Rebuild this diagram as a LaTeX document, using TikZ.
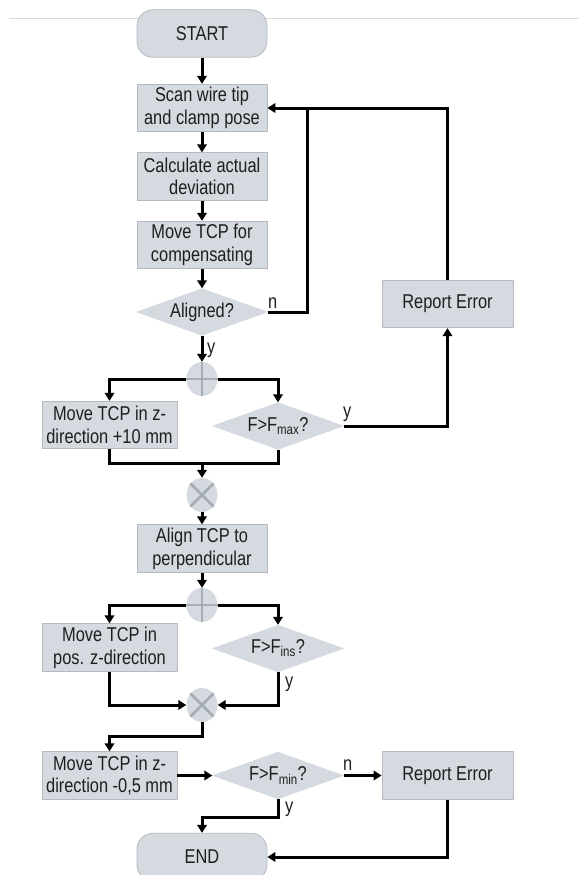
\documentclass[tikz,border=0pt]{standalone}
\usepackage{fontspec}
\setmainfont{Liberation Sans}[FakeStretch=0.82]
\usetikzlibrary{arrows.meta,shapes.geometric}

\definecolor{boxfill}{HTML}{D5DAE0}
\definecolor{boxline}{HTML}{B4BAC0}
\definecolor{crossline}{HTML}{A5ACB4}
\definecolor{txt}{HTML}{1E1E1E}
\definecolor{rule}{HTML}{DADADA}

\tikzset{
  base/.style={fill=boxfill, text=txt, inner sep=0pt, align=center,
    font=\fontsize{20}{22.7}\selectfont},
  stepbox/.style={base, draw=boxline, line width=0.8pt, rectangle,
    minimum width=130pt, minimum height=47.5pt},
  widebox/.style={stepbox, minimum width=135pt},
  terminal/.style={base, draw=boxline, line width=0.8pt, rectangle,
    rounded corners=16pt, minimum width=130pt, minimum height=47.5pt},
  decision/.style={base, diamond, aspect=2.8, draw=boxfill,
    minimum width=131pt, minimum height=47pt},
  junction/.style={fill=boxfill, ellipse, inner sep=0pt,
    minimum width=31pt, minimum height=34pt},
  mark lines/.style={draw=crossline, line width=2.6pt},
  flow/.style={draw=black, line width=3pt,
    -{Triangle[width=9.5pt,length=8pt]}},
  plainline/.style={draw=black, line width=3pt},
  lbl/.style={text=txt, inner sep=0pt, font=\fontsize{20}{22.7}\selectfont},
}

\begin{document}
\begin{tikzpicture}[x=1pt, y=-1pt]
  \path[use as bounding box] (0,0) rectangle (579,875);
  \clip (0,0) rectangle (579,875);

  % thin rule across the top
  \draw[rule, line width=0.8pt] (9,18) -- (579,18);

  % main column
  \node[terminal] (start) at (202,33.5) {START};
  \node[stepbox] (scan) at (202,108) {Scan wire tip\\and clamp pose};
  \node[stepbox] (calc) at (202,176.5) {Calculate actual\\deviation};
  \node[stepbox] (comp) at (202,245) {Move TCP for\\compensating};
  \node[decision] (aligned) at (202,312) {Aligned?};
  \node[stepbox, minimum width=131pt] (err1) at (447.5,304) {Report Error};

  \node[junction] (plus1) at (202,379) {};
  \node[widebox] (box10) at (109.5,425) {Move TCP in z-\\direction +10 mm};
  \node[decision] (fmax) at (278,426) {F>F\textsubscript{max}?};
  \node[junction] (merge1) at (202,495) {};

  \node[stepbox] (align) at (202,548.5) {Align TCP to\\perpendicular};

  \node[junction] (plus2) at (202,605) {};
  \node[widebox] (boxpos) at (109.5,647.5) {Move TCP in\\pos. z-direction};
  \node[decision] (fins) at (278,648.5) {F>F\textsubscript{ins}?};
  \node[junction] (merge2) at (202,705) {};

  \node[widebox] (box05) at (109.5,775.5) {Move TCP in z-\\direction -0,5 mm};
  \node[decision] (fmin) at (278,775.5) {F>F\textsubscript{min}?};
  \node[stepbox, minimum width=131pt] (err2) at (447.5,775.5) {Report Error};

  \node[terminal] (end) at (202,857) {END};

  % plus / cross marks inside the junctions
  \path[mark lines] (plus1.north) -- (plus1.south) (plus1.west) -- (plus1.east);
  \path[mark lines] (plus2.north) -- (plus2.south) (plus2.west) -- (plus2.east);
  \path[mark lines] (merge1.45) -- (merge1.225) (merge1.135) -- (merge1.315);
  \path[mark lines] (merge2.45) -- (merge2.225) (merge2.135) -- (merge2.315);

  % helper points for the routed lines
  \coordinate (loop) at (307,108);
  \coordinate (m1) at (202,463);
  \coordinate (m2) at (202,736);
  \coordinate (m3) at (202,817);

  % connectors
  \path[flow] (start) -- (scan);
  \path[flow] (scan) -- (calc);
  \path[flow] (calc) -- (comp);
  \path[flow] (comp) -- (aligned);
  \path[plainline] (aligned.east) -| (loop);
  \path[flow] (err1.north) |- (scan.east);
  \path[flow] (aligned.south) -- (plus1.north);

  \path[flow] (plus1.west) -| (box10.north);
  \path[flow] (plus1.east) -| (fmax.north);
  \path[flow] (fmax.east) -| (err1.south);
  \path[plainline] (box10.south) |- (m1) -| (fmax.south);
  \path[flow] (m1) -- (merge1.north);
  \path[flow] (merge1.south) -- (align.north);

  \path[flow] (align.south) -- (plus2.north);
  \path[flow] (plus2.west) -| (boxpos.north);
  \path[flow] (plus2.east) -| (fins.north);
  \path[flow] (boxpos.south) |- (merge2.west);
  \path[flow] (fins.south) |- (merge2.east);
  \path[flow] (merge2.south) -- (m2) -| (box05.north);

  \path[flow] (box05.east) -- (fmin.west);
  \path[flow] (fmin.east) -- (err2.west);
  \path[flow] (fmin.south) |- (m3) -- (end.north);
  \path[flow] (err2.south) |- (end.east);

  % branch labels
  \node[lbl, anchor=base west] (nA) at (268,308) {n};
  \node[lbl, anchor=base west] (yA) at (207,353) {y};
  \node[lbl, anchor=base west] (yB) at (343,417) {y};
  \node[lbl, anchor=base west] (yC) at (285,687) {y};
  \node[lbl, anchor=base west] (nB) at (343,770) {n};
  \node[lbl, anchor=base west] (yD) at (285,812) {y};
\end{tikzpicture}
\end{document}
